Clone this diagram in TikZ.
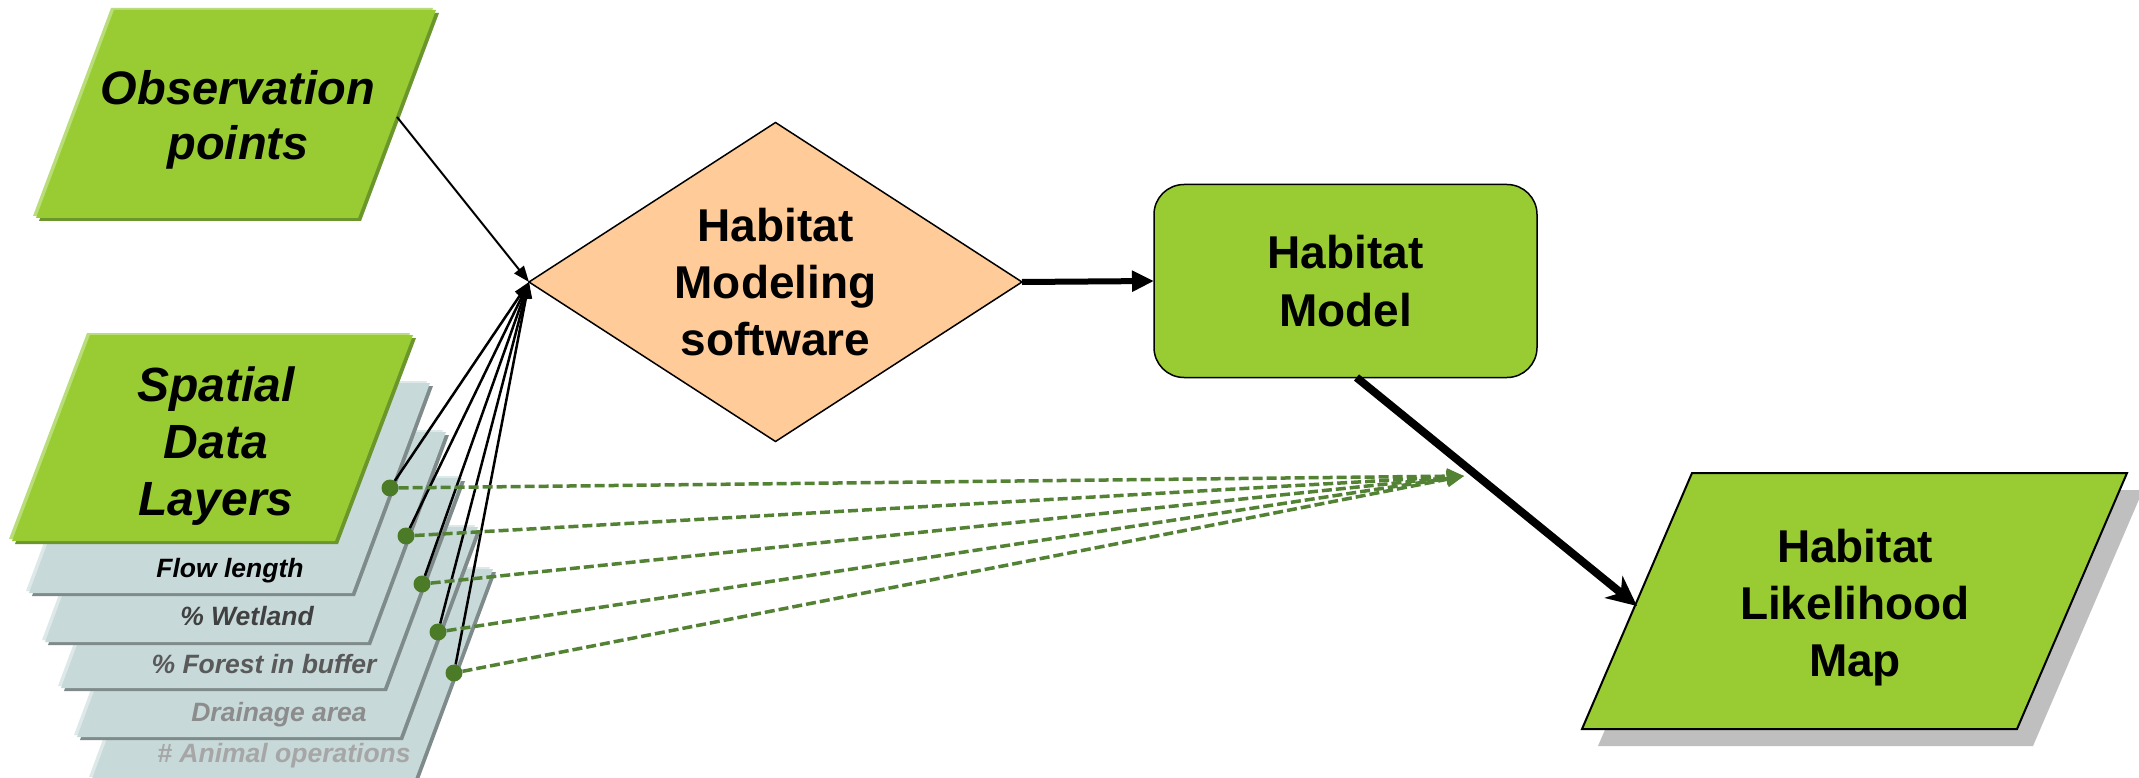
\documentclass[tikz,border=0pt]{standalone}
\usepackage{fontspec}
\setmainfont{Liberation Sans}
\usetikzlibrary{arrows.meta,shapes.geometric}

\definecolor{leaf}{HTML}{99CC33}
\definecolor{leafdark}{HTML}{6A962C}
\definecolor{leaflight}{HTML}{BADD7C}
\definecolor{peach}{HTML}{FFCC99}
\definecolor{slab}{HTML}{C7D9D9}
\definecolor{slabdark}{HTML}{7F8B8B}
\definecolor{slablight}{HTML}{DDE9E9}
\definecolor{moss}{HTML}{548235}
\definecolor{mossdot}{HTML}{4B7B26}
\definecolor{mapshadow}{HTML}{BFBFBF}

% bevelled parallelogram: #1,#2 lower-left corner, #3 width, #4 slant,
% #5 height, #6 body colour, #7 shade colour, #8 highlight colour
\newcommand{\slantslab}[8]{%
  \fill[#8] (#1-3,#2-2) -- ++(#3,0) -- ++(#4,-#5) -- ++(-#3,0) -- cycle;
  \fill[#7] (#1+3,#2+3) -- ++(#3,0) -- ++(#4,-#5) -- ++(-#3,0) -- cycle;
  \fill[#6] (#1,#2) -- ++(#3,0) -- ++(#4,-#5) -- ++(-#3,0) -- cycle;
}

\tikzset{
  titleit/.style={align=center, inner sep=0pt,
    font=\fontsize{47}{55}\selectfont\bfseries\itshape},
  titleup/.style={align=center, inner sep=0pt,
    font=\fontsize{46}{57}\selectfont\bfseries},
  layerlabel/.style={anchor=base, inner sep=0pt,
    font=\fontsize{26.5}{30}\selectfont\bfseries\itshape},
  dot/.style={circle, fill=mossdot, minimum size=17pt, inner sep=0pt},
  feed/.style={line width=2.5pt, -{Triangle[length=16pt,width=12pt]}},
  linkdash/.style={moss, line width=3.5pt, dash pattern=on 10pt off 4pt,
    -{Triangle[length=17pt,width=15pt]}},
}

\begin{document}
\begin{tikzpicture}[x=1pt,y=-1pt]
\useasboundingbox (0,0) rectangle (2139,778);
\fill[white] (0,0) rectangle (2139,778);

% stack of data layers, back to front
\slantslab{92}{779}{323}{78}{210}{slab}{slabdark}{slablight}
\slantslab{77}{737}{323}{78}{210}{slab}{slabdark}{slablight}
\slantslab{61}{688}{323}{78}{210}{slab}{slabdark}{slablight}
\slantslab{45}{642}{323}{78}{210}{slab}{slabdark}{slablight}
\slantslab{29}{593}{323}{78}{210}{slab}{slabdark}{slablight}

\node[layerlabel, text=black!35] (l5) at (284,762) {\# Animal operations};
\node[layerlabel, text=black!45] (l4) at (279,721) {Drainage area};
\node[layerlabel, text=black!65] (l3) at (264,673) {\% Forest in buffer};
\node[layerlabel, text=black!75] (l2) at (247,625) {\% Wetland};
\node[layerlabel, text=black] (l1) at (230,577) {Flow length};

% green input parallelograms
\slantslab{12}{541}{323}{78}{206}{leaf}{leafdark}{leaflight}
\slantslab{36}{218}{322}{78}{208}{leaf}{leafdark}{leaflight}

\node[titleit, font=\fontsize{48}{57}\selectfont\bfseries\itshape]
  (sdl) at (216,446) {Spatial\\Data\\Layers};
\node[titleit] (obs) at (238,120) {Observation\\points};

% processing diamond and model box
\node[diamond, draw, fill=peach, line width=1.5pt, aspect=1.545,
      minimum width=493pt, minimum height=319pt, inner sep=0pt, outer sep=0pt,
      titleup, font=\fontsize{46}{57}\selectfont\bfseries]
  (hms) at (775.5,282) {Habitat\\Modeling\\software};

\node[draw, fill=leaf, line width=1.5pt, rounded corners=30pt,
      minimum width=383pt, minimum height=193pt, outer sep=0pt,
      align=center, font=\fontsize{46}{58}\selectfont\bfseries]
  (hm) at (1345.5,281) {Habitat\\Model};

% output map with drop shadow
\fill[mapshadow] (1598,746) -- (2033,746) -- (2143,490) -- (1708,490) -- cycle;
\draw[fill=leaf, line width=2pt] (1582,729) -- (2017,729) -- (2127,473) -- (1692,473) -- cycle;
\node[titleup] (map) at (1855,608) {Habitat\\Likelihood\\Map};

% connector end points
\coordinate (obs-out) at (397,117);
\coordinate (map-in) at (1637,606);
\coordinate (hub) at (1464,476);

% layer attachment dots
\node[dot] (d1) at (390,488) {};
\node[dot] (d2) at (406,536) {};
\node[dot] (d3) at (422,584) {};
\node[dot] (d4) at (438,632) {};
\node[dot] (d5) at (454,673) {};

% inputs to the modeling software
\draw[line width=2pt, -{Triangle[length=16pt,width=12pt]}] (obs-out) -- (hms.west);
\foreach \d in {d1,d2,d3,d4,d5}
  \draw[feed] (\d) -- (hms.west);

% layer links
\foreach \d in {d1,d2,d3,d4,d5}
  \draw[linkdash] (\d) -- (hub);

% main flow
\draw[line width=6pt, -{Triangle[length=22pt,width=20pt]}] (hms.east) -- (hm.west);
\draw[line width=8pt, -{Stealth[length=30pt,width=28pt,inset=9pt]}]
  ([xshift=11pt]hm.south) -- (map-in);

\end{tikzpicture}
\end{document}
